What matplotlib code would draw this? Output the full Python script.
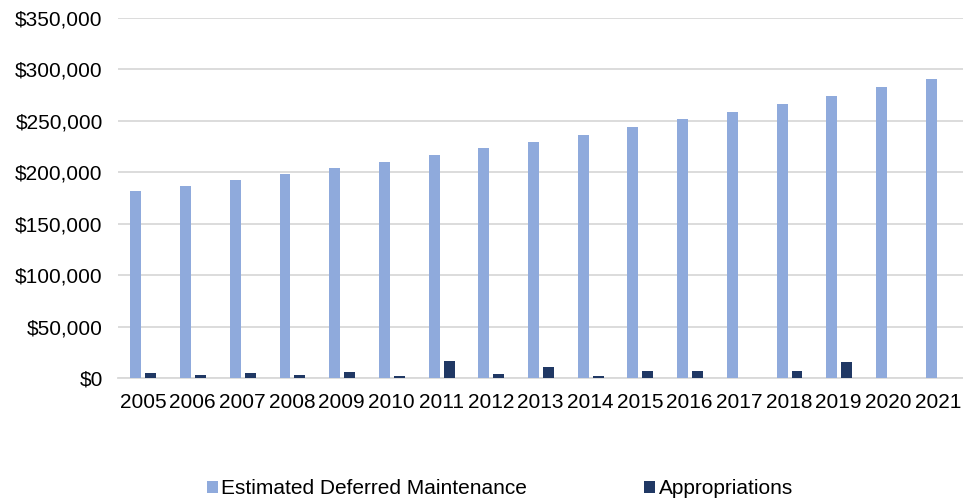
import matplotlib
matplotlib.use("Agg")
import matplotlib.pyplot as plt
import numpy as np
from matplotlib.ticker import FuncFormatter

# 年份与两组数据（单位：千美元）
years = [str(y) for y in range(2005, 2022)]
deferred = [181500, 186700, 192500, 198300, 204200, 210000, 216500, 223300, 229800,
            236600, 243700, 251500, 258600, 266700, 274500, 282600, 290700]
appropriations = [4500, 3200, 4500, 2600, 5500, 1600, 16200, 3900, 10400,
                  1600, 6500, 6500, 0, 6500, 15900, 0, 0]

plt.rcParams['font.family'] = ['Liberation Sans', 'DejaVu Sans']

fig = plt.figure(figsize=(9.63, 5.01), dpi=100)
ax = fig.add_axes([118 / 963, 1 - 378 / 501, 845 / 963, 360 / 501])

x = np.arange(len(years))
w = 0.22
ax.bar(x - 0.14, deferred, w, color='#8FAADC', label='Estimated Deferred Maintenance', zorder=3)
ax.bar(x + 0.16, appropriations, w, color='#203864', label='Appropriations', zorder=3)

ax.set_xlim(-0.5, len(years) - 0.5)
ax.set_ylim(0, 350000)
ax.set_yticks(np.arange(0, 350001, 50000))
ax.yaxis.set_major_formatter(FuncFormatter(lambda v, p: f"${v:,.0f}"))
ax.set_xticks(x)
ax.set_xticklabels(years)
ax.tick_params(axis='both', length=0, labelsize=15, colors='#000000')
ax.tick_params(axis='x', pad=11)
ax.tick_params(axis='y', pad=11)

ax.grid(axis='y', color='#d9d9d9', linewidth=1.3, zorder=0)
for s in ['top', 'right', 'left']:
    ax.spines[s].set_visible(False)
ax.spines['bottom'].set_color('#d9d9d9')
ax.spines['bottom'].set_linewidth(1.3)

fig.legend(loc='center', bbox_to_anchor=(0.519, 1 - 489 / 501), ncol=2, frameon=False,
           fontsize=15, handlelength=0.55, handleheight=0.55, handletextpad=0.15,
           columnspacing=5.6)

fig.savefig('out.png', dpi=100)
